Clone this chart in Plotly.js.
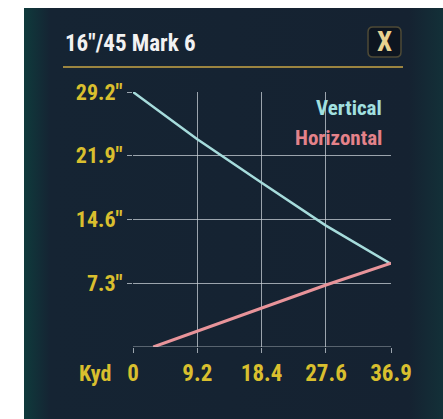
<!DOCTYPE html>
<html>
<head>
<meta charset="utf-8">
<script src="https://cdn.plot.ly/plotly-3.0.1.min.js"></script>
<style>
  html, body { margin: 0; padding: 0; background: #ffffff; width: 443px; height: 419px; overflow: hidden; }
  #chart {
    position: absolute; left: 24px; top: 8px; width: 419px; height: 411px;
    background: linear-gradient(to right, #0f3a3c 0px, #152433 26px, #152231 385px, #133038 419px);
  }
</style>
</head>
<body>
<div id="chart"></div>
<script>
// ---- data ----
const chartTitle = '16"/45 Mark 6';
const xTickVals = [0, 9.2, 18.4, 27.6, 36.9];
const xTickText = ['0', '9.2', '18.4', '27.6', '36.9'];
const yTickVals = [7.3, 14.6, 21.9, 29.2];
const yTickText = ['7.3"', '14.6"', '21.9"', '29.2"'];
const xUnit = 'Kyd';
const verticalX = [0, 9.2, 18.4, 27.6, 36.9];
const verticalY = [29.2, 23.8, 18.8, 13.9, 9.5];
const horizontalX = [2.9, 9.2, 18.4, 27.6, 36.9];
const horizontalY = [0, 1.8, 4.4, 7.1, 9.6];
const seriesNames = ['Vertical', 'Horizontal'];

// ---- layout helpers (page pixel -> paper coords) ----
const OFFX = 24, OFFY = 8, W = 419, H = 411;
const M = { l: 109, r: 52, t: 84, b: 72 };
const PW = W - M.l - M.r, PH = H - M.t - M.b;
const px = x => (x - OFFX - M.l) / PW;
const py = y => (H - M.b - (y - OFFY)) / PH;

const FONT = '"Roboto Condensed", "Open Sans Condensed", sans-serif';
const GOLD = '#d9bf2e';
const GRID = 'rgba(200,208,215,0.75)';

const traces = [
  { x: verticalX, y: verticalY, name: seriesNames[0], mode: 'lines',
    line: { color: '#a6dcdc', width: 2.5 }, hoverinfo: 'skip' },
  { x: horizontalX, y: horizontalY, name: seriesNames[1], mode: 'lines',
    line: { color: '#e8949a', width: 3 }, hoverinfo: 'skip' }
];

function roundRect(x0, y0, x1, y1, r) {
  const X0 = px(x0), X1 = px(x1), Y0 = py(y0), Y1 = py(y1);
  const rx = r / PW, ry = r / PH;
  return `M ${X0 + rx} ${Y0} L ${X1 - rx} ${Y0} Q ${X1} ${Y0} ${X1} ${Y0 - ry} ` +
         `L ${X1} ${Y1 + ry} Q ${X1} ${Y1} ${X1 - rx} ${Y1} L ${X0 + rx} ${Y1} ` +
         `Q ${X0} ${Y1} ${X0} ${Y1 + ry} L ${X0} ${Y0 - ry} Q ${X0} ${Y0} ${X0 + rx} ${Y0} Z`;
}

const layout = {
  width: W, height: H,
  margin: M,
  paper_bgcolor: 'rgba(0,0,0,0)',
  plot_bgcolor: 'rgba(0,0,0,0)',
  showlegend: false,
  font: { family: FONT, color: GOLD, size: 22, weight: 'bold' },
  xaxis: {
    range: [0, 36.9], tickvals: xTickVals, ticktext: xTickText,
    showgrid: true, gridcolor: GRID, gridwidth: 1, zeroline: false, showline: false,
    ticks: 'outside', ticklen: 5, tickcolor: GRID, tickwidth: 1,
    ticklabelstandoff: 0,
    tickfont: { family: FONT, size: 23, color: GOLD, weight: 'bold' },
    fixedrange: true
  },
  yaxis: {
    range: [0, 29.2], tickvals: yTickVals, ticktext: yTickText,
    showgrid: true, gridcolor: GRID, gridwidth: 1, zeroline: false, showline: false,
    ticks: 'outside', ticklen: 5, tickcolor: GRID, tickwidth: 1,
    tickfont: { family: FONT, size: 22, color: GOLD, weight: 'bold' },
    fixedrange: true
  },
  shapes: [
    { type: 'line', xref: 'paper', yref: 'paper', x0: px(63), x1: px(403), y0: py(67), y1: py(67),
      line: { color: '#c9a646', width: 1.5 } },
    { type: 'path', xref: 'paper', yref: 'paper', path: roundRect(368, 27, 401, 57, 5),
      fillcolor: '#0d1520', line: { color: '#4e4a36', width: 1.5 } },
    { type: 'line', xref: 'paper', yref: 'y', x0: 0, x1: 1, y0: 0, y1: 0,
      line: { color: GRID, width: 1 } }
  ],
  annotations: [
    { text: chartTitle, xref: 'paper', yref: 'paper', x: px(63), y: py(43),
      xanchor: 'left', yanchor: 'middle', showarrow: false,
      font: { family: FONT, size: 23, color: '#f2f2f2', weight: 'bold' } },
    { text: 'X', xref: 'paper', yref: 'paper', x: px(384.5), y: py(42),
      xanchor: 'center', yanchor: 'middle', showarrow: false,
      font: { family: FONT, size: 27, color: '#e8d290', weight: 'bold' } },
    { text: seriesNames[0], xref: 'paper', yref: 'paper', x: px(384), y: py(108),
      xanchor: 'right', yanchor: 'middle', showarrow: false,
      font: { family: FONT, size: 21, color: '#a2e0e0', weight: 'bold' } },
    { text: seriesNames[1], xref: 'paper', yref: 'paper', x: px(384), y: py(138),
      xanchor: 'right', yanchor: 'middle', showarrow: false,
      font: { family: FONT, size: 21, color: '#e4828a', weight: 'bold' } },
    { text: xUnit, xref: 'paper', yref: 'paper', x: px(95), y: py(373),
      xanchor: 'center', yanchor: 'middle', showarrow: false,
      font: { family: FONT, size: 22, color: GOLD, weight: 'bold' } }
  ]
};

Plotly.newPlot('chart', traces, layout, { displayModeBar: false, staticPlot: true });
</script>
</body>
</html>
